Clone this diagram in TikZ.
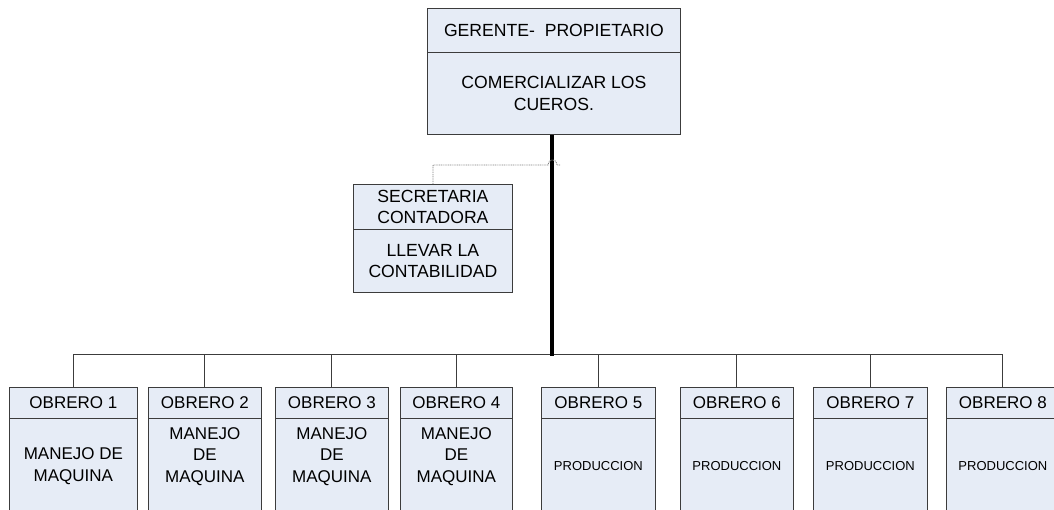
\documentclass[tikz,border=0pt]{standalone}
\usepackage{fontspec}
\setmainfont{Liberation Sans}
\definecolor{boxfill}{RGB}{230,236,246}
\definecolor{boxline}{RGB}{60,60,60}
\begin{document}
\begin{tikzpicture}[x=1pt,y=-1pt,
  cell/.style={draw=boxline,fill=boxfill,line width=0.8pt,anchor=north west,inner sep=0pt,align=center},
  big/.style={font=\fontsize{17.6}{21.5}\selectfont},
  mid/.style={font=\fontsize{17}{21.5}\selectfont},
  small/.style={font=\fontsize{13}{16}\selectfont},
  txt/.style={inner sep=0pt,align=center},
  link/.style={draw=boxline,line width=1pt},
  trunk/.style={draw=black,line width=4pt},
  staff/.style={draw=gray,line width=0.8pt,dash pattern=on 1pt off 0.8pt}]
\useasboundingbox (0,0) rectangle (1054,509);
\clip (0,0) rectangle (1054,509);

% top box
\node[cell,big,minimum width=253pt,minimum height=44pt] (gh) at (427,8) {GERENTE-\ \ PROPIETARIO};
\node[cell,big,minimum width=253pt,minimum height=82pt] (gb) at (427,52) {COMERCIALIZAR LOS\\CUEROS.};

% secretary
\node[cell,big,minimum width=159pt,minimum height=45pt] (sh) at (353,184) {SECRETARIA\\CONTADORA};
\node[cell,big,minimum width=159pt,minimum height=63pt] (sb) at (353,229) {LLEVAR LA\\CONTABILIDAD};

% workers
\foreach \i/\l/\w in {1/9/128,2/148/113,3/275/113,4/400/112,5/541/114,6/680/113,7/813/114,8/946/113}{
  \node[cell,mid,minimum width=\w pt,minimum height=31pt] (o\i h) at (\l,387) {OBRERO \i};
  \node[cell,minimum width=\w pt,minimum height=94pt] (o\i b) at (\l,418) {};
}
\node[txt,mid] (t1) at ([yshift=-1pt]o1b.center) {MANEJO DE\\MAQUINA};
\foreach \i in {2,3,4}{
  \node[txt,mid] (t\i) at ([yshift=9pt]o\i b.center) {MANEJO\\DE\\MAQUINA};
}
\foreach \i in {5,6,7,8}{
  \node[txt,small] (t\i) at ([yshift=-1pt]o\i b.center) {PRODUCCION};
}

% connectors
\coordinate (busy) at (0,354);
\draw[link] (o1h.north) -- (o1h.north |- busy) -- (o8h.north |- busy) -- (o8h.north);
\foreach \i in {2,...,7}{
  \draw[link] (o\i h.north) -- (o\i h.north |- busy);
}
\coordinate (tr) at (552,356);
\draw[trunk] (gb.south -| tr) -- (tr);
\coordinate (hy) at (0,165);
\coordinate (hs) at (548,165);
\coordinate (he) at (557,165);
\coordinate (hend) at (560,165);
\draw[staff] (sh.north) -- (sh.north |- hy) -- (hs) .. controls (549,158) and (556,158) .. (he) -- (hend);
\end{tikzpicture}
\end{document}
